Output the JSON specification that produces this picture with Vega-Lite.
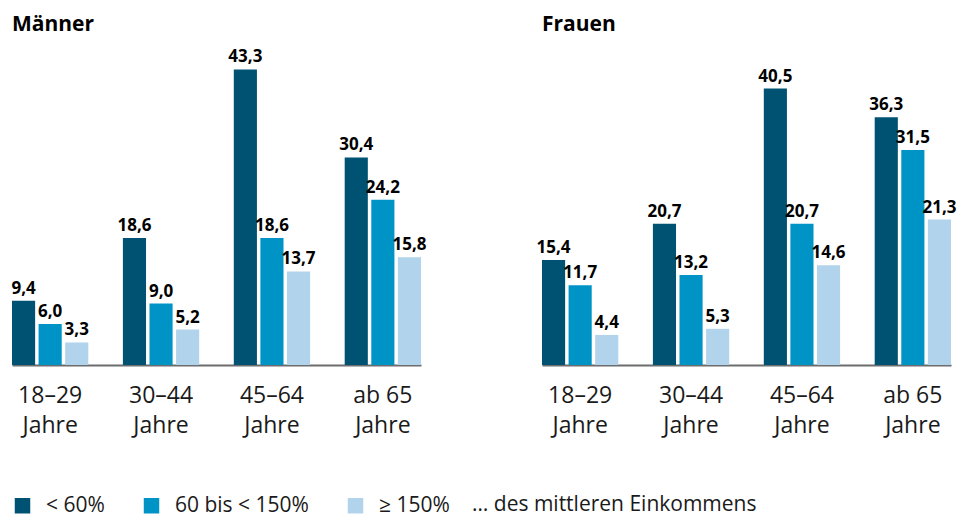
{
  "$schema": "https://vega.github.io/schema/vega-lite/v6.json",
  "padding": {"left": 11, "right": 12, "top": 14, "bottom": 0},
  "data": {"values": [
    {"sex": "Männer", "age": "18–29 Jahre", "income": "< 60%", "value": 9.4},
    {"sex": "Männer", "age": "18–29 Jahre", "income": "60 bis < 150%", "value": 6.0},
    {"sex": "Männer", "age": "18–29 Jahre", "income": "≥ 150%", "value": 3.3},
    {"sex": "Männer", "age": "30–44 Jahre", "income": "< 60%", "value": 18.6},
    {"sex": "Männer", "age": "30–44 Jahre", "income": "60 bis < 150%", "value": 9.0},
    {"sex": "Männer", "age": "30–44 Jahre", "income": "≥ 150%", "value": 5.2},
    {"sex": "Männer", "age": "45–64 Jahre", "income": "< 60%", "value": 43.3},
    {"sex": "Männer", "age": "45–64 Jahre", "income": "60 bis < 150%", "value": 18.6},
    {"sex": "Männer", "age": "45–64 Jahre", "income": "≥ 150%", "value": 13.7},
    {"sex": "Männer", "age": "ab 65 Jahre", "income": "< 60%", "value": 30.4},
    {"sex": "Männer", "age": "ab 65 Jahre", "income": "60 bis < 150%", "value": 24.2},
    {"sex": "Männer", "age": "ab 65 Jahre", "income": "≥ 150%", "value": 15.8},
    {"sex": "Frauen", "age": "18–29 Jahre", "income": "< 60%", "value": 15.4},
    {"sex": "Frauen", "age": "18–29 Jahre", "income": "60 bis < 150%", "value": 11.7},
    {"sex": "Frauen", "age": "18–29 Jahre", "income": "≥ 150%", "value": 4.4},
    {"sex": "Frauen", "age": "30–44 Jahre", "income": "< 60%", "value": 20.7},
    {"sex": "Frauen", "age": "30–44 Jahre", "income": "60 bis < 150%", "value": 13.2},
    {"sex": "Frauen", "age": "30–44 Jahre", "income": "≥ 150%", "value": 5.3},
    {"sex": "Frauen", "age": "45–64 Jahre", "income": "< 60%", "value": 40.5},
    {"sex": "Frauen", "age": "45–64 Jahre", "income": "60 bis < 150%", "value": 20.7},
    {"sex": "Frauen", "age": "45–64 Jahre", "income": "≥ 150%", "value": 14.6},
    {"sex": "Frauen", "age": "ab 65 Jahre", "income": "< 60%", "value": 36.3},
    {"sex": "Frauen", "age": "ab 65 Jahre", "income": "60 bis < 150%", "value": 31.5},
    {"sex": "Frauen", "age": "ab 65 Jahre", "income": "≥ 150%", "value": 21.3}
  ]},
  "facet": {
    "column": {
      "field": "sex", "type": "nominal", "sort": ["Männer", "Frauen"],
      "header": {"title": null, "labelAnchor": "start", "labelFontSize": 21, "labelFontWeight": "bold", "labelFont": "Open Sans", "labelColor": "#000000", "labelPadding": 13}
    }
  },
  "spacing": 109,
  "spec": {
    "width": 409,
    "height": 314,
    "encoding": {
      "x": {
        "field": "age", "type": "nominal",
        "sort": ["18–29 Jahre", "30–44 Jahre", "45–64 Jahre", "ab 65 Jahre"],
        "scale": {"paddingInner": 0.312, "paddingOuter": 0},
        "axis": {
          "title": null, "labelAngle": 0, "ticks": false,
          "labelExpr": "[replace(datum.label, ' Jahre', ''), 'Jahre']",
          "labelFont": "Open Sans", "labelFontSize": 23, "labelColor": "#1a1a1a",
          "labelLineHeight": 30, "labelPadding": 19, "labelBaseline": "top",
          "domainColor": "#6d6d6d", "domainWidth": 2
        }
      },
      "xOffset": {
        "field": "income", "type": "nominal",
        "sort": ["< 60%", "60 bis < 150%", "≥ 150%"],
        "scale": {"paddingInner": 0.13, "paddingOuter": 0}
      },
      "y": {"field": "value", "type": "quantitative", "scale": {"domain": [0, 46], "nice": false}, "axis": null}
    },
    "layer": [
      {
        "mark": {"type": "bar"},
        "encoding": {
          "color": {
            "field": "income", "type": "nominal",
            "scale": {
              "domain": ["< 60%", "60 bis < 150%", "≥ 150%"],
              "range": ["#005273", "#0093c6", "#b1d3eb"]
            },
            "legend": {
              "title": "… des mittleren Einkommens", "titleOrient": "right",
              "titleFont": "Open Sans", "titleFontSize": 21, "titleFontWeight": "normal", "titleColor": "#1a1a1a",
              "titlePadding": 22, "titleBaseline": "middle", "titleLimit": 400,
              "orient": "bottom", "direction": "horizontal", "padding": 0,
              "symbolType": "square", "symbolSize": 240, "symbolStrokeWidth": 0,
              "labelFont": "Open Sans", "labelFontSize": 21, "labelColor": "#1a1a1a",
              "labelOffset": 13, "columnPadding": 36, "offset": 58, "labelLimit": 400
            }
          }
        }
      },
      {
        "mark": {"type": "text", "baseline": "alphabetic", "dy": -7, "fontWeight": "bold", "fontSize": 17, "font": "Open Sans", "color": "#000000"},
        "encoding": {"text": {"field": "value", "type": "quantitative", "format": ".1f"}}
      }
    ]
  },
  "config": {
    "view": {"stroke": null},
    "locale": {"number": {"decimal": ",", "thousands": ".", "grouping": [3], "currency": ["", " €"]}}
  }
}
